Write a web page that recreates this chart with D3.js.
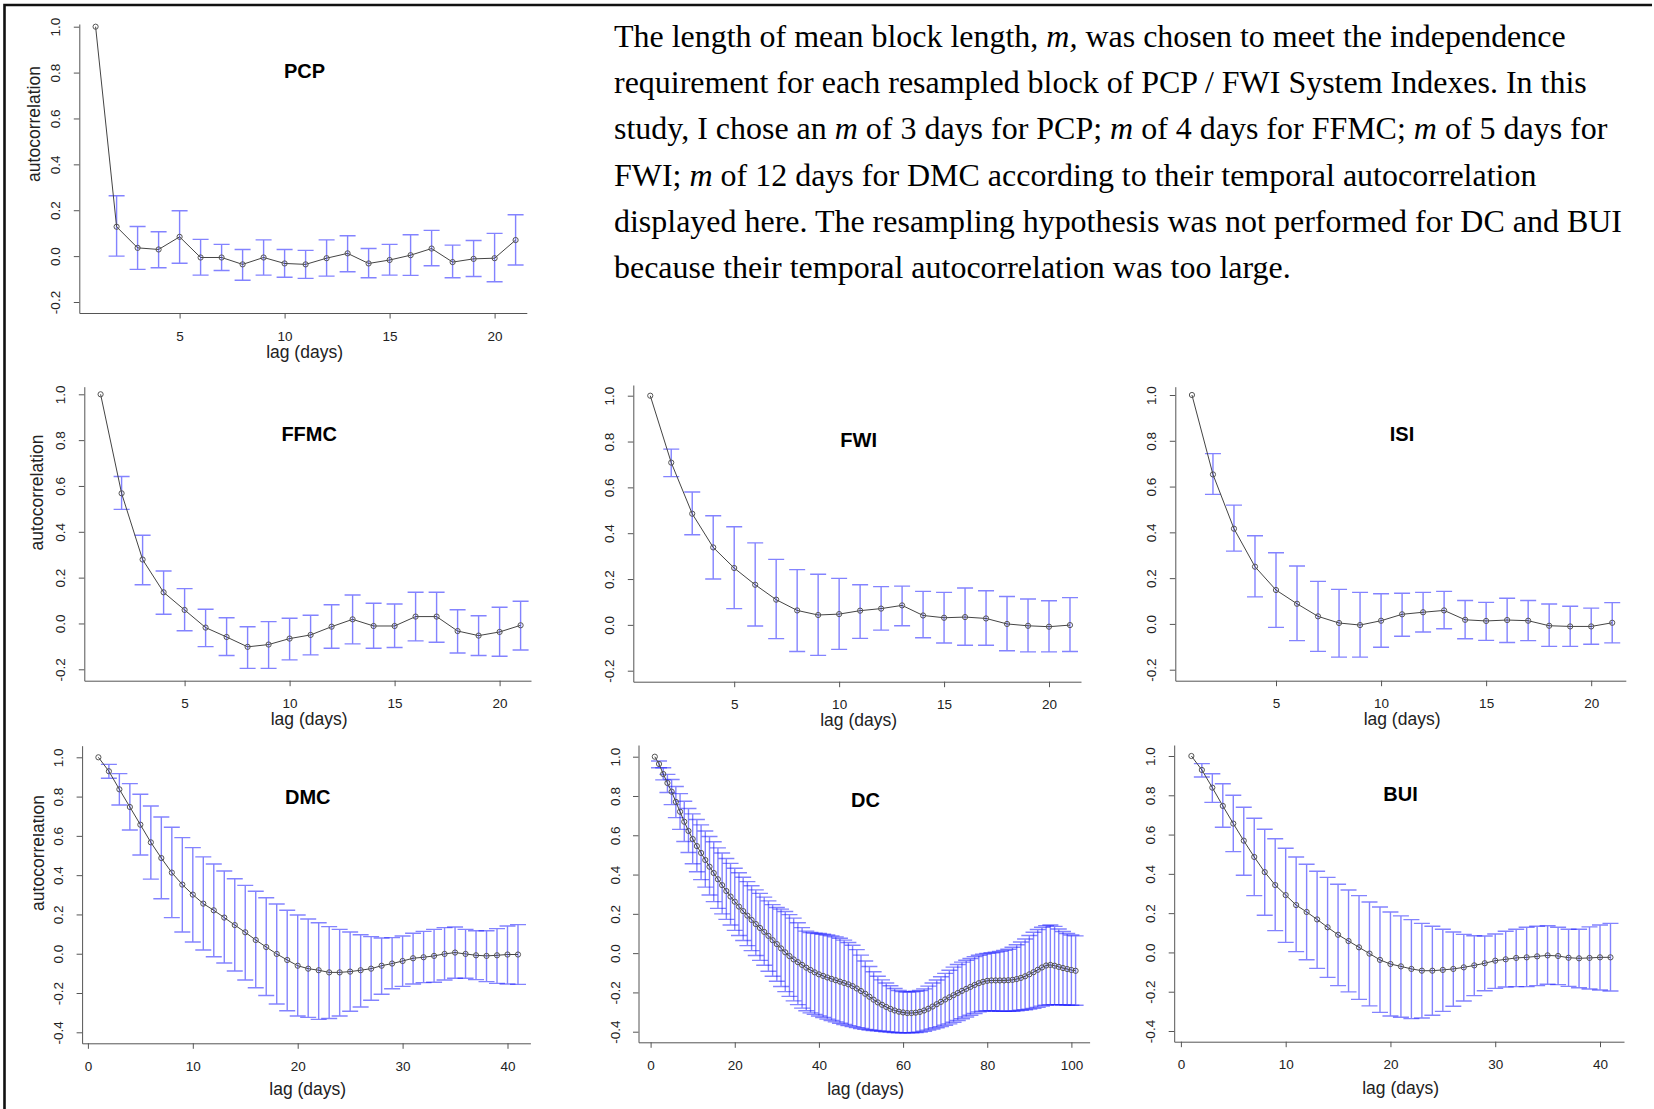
<!DOCTYPE html>
<html>
<head>
<meta charset="utf-8">
<script src="https://cdn.jsdelivr.net/npm/d3@7"></script>
<style>
  body { margin: 0; background: #fff; }
</style>
</head>
<body>
<script>
// autocorrelation per lag (lag 1 first), with upper / lower bootstrap limits
var pcpAcf = [1.000, 0.128, 0.036, 0.029, 0.084, -0.006, -0.006, -0.036, -0.006, -0.032, -0.036, -0.009, 0.012, -0.032, -0.017, 0.004, 0.033, -0.026, -0.012, -0.009, 0.070];
var pcpHi = [null, 0.263, 0.129, 0.106, 0.198, 0.073, 0.051, 0.029, 0.071, 0.029, 0.025, 0.071, 0.089, 0.033, 0.051, 0.093, 0.112, 0.048, 0.068, 0.099, 0.180];
var pcpLo = [null, 0.000, -0.058, -0.051, -0.031, -0.083, -0.063, -0.105, -0.083, -0.092, -0.097, -0.087, -0.068, -0.094, -0.083, -0.084, -0.042, -0.094, -0.089, -0.112, -0.039];

var ffmcAcf = [1.000, 0.568, 0.279, 0.136, 0.059, -0.018, -0.059, -0.102, -0.092, -0.066, -0.050, -0.014, 0.018, -0.011, -0.011, 0.030, 0.030, -0.033, -0.053, -0.037, -0.008];
var ffmcHi = [null, 0.641, 0.385, 0.229, 0.152, 0.062, 0.025, -0.014, 0.008, 0.023, 0.036, 0.082, 0.124, 0.088, 0.085, 0.136, 0.136, 0.060, 0.034, 0.071, 0.097];
var ffmcLo = [null, 0.498, 0.169, 0.040, -0.032, -0.101, -0.140, -0.196, -0.196, -0.159, -0.137, -0.108, -0.089, -0.108, -0.105, -0.076, -0.082, -0.129, -0.140, -0.143, -0.116];

var fwiAcf = [1.000, 0.708, 0.485, 0.338, 0.248, 0.175, 0.110, 0.063, 0.043, 0.047, 0.062, 0.071, 0.085, 0.041, 0.031, 0.034, 0.028, 0.004, -0.004, -0.008, -0.001];
var fwiHi = [null, 0.767, 0.580, 0.476, 0.428, 0.358, 0.286, 0.241, 0.221, 0.203, 0.175, 0.167, 0.169, 0.146, 0.142, 0.161, 0.149, 0.124, 0.113, 0.105, 0.119];
var fwiLo = [null, 0.647, 0.393, 0.200, 0.071, -0.005, -0.060, -0.116, -0.133, -0.107, -0.059, -0.023, -0.004, -0.056, -0.079, -0.089, -0.089, -0.113, -0.118, -0.118, -0.116];

var isiAcf = [1.000, 0.653, 0.416, 0.250, 0.148, 0.088, 0.033, 0.004, -0.005, 0.014, 0.042, 0.051, 0.059, 0.018, 0.013, 0.017, 0.014, -0.008, -0.011, -0.011, 0.005];
var isiHi = [null, 0.744, 0.519, 0.385, 0.311, 0.253, 0.186, 0.151, 0.138, 0.132, 0.134, 0.138, 0.142, 0.102, 0.094, 0.112, 0.102, 0.087, 0.077, 0.069, 0.093];
var isiLo = [null, 0.566, 0.318, 0.118, -0.015, -0.073, -0.120, -0.145, -0.145, -0.102, -0.054, -0.035, -0.021, -0.065, -0.072, -0.081, -0.073, -0.098, -0.098, -0.089, -0.083];

var dmcAcf = [1.000, 0.929, 0.837, 0.747, 0.657, 0.567, 0.487, 0.413, 0.352, 0.301, 0.255, 0.221, 0.184, 0.146, 0.109, 0.070, 0.034, -0.001, -0.032, -0.061, -0.076, -0.084, -0.095, -0.095, -0.091, -0.084, -0.076, -0.061, -0.050, -0.037, -0.023, -0.018, -0.011, -0.001, 0.006, -0.001, -0.008, -0.011, -0.008, -0.004, -0.004];
var dmcHi = [null, 0.964, 0.917, 0.866, 0.812, 0.752, 0.696, 0.644, 0.591, 0.540, 0.493, 0.457, 0.421, 0.382, 0.348, 0.318, 0.285, 0.253, 0.221, 0.197, 0.177, 0.158, 0.138, 0.124, 0.111, 0.097, 0.087, 0.080, 0.082, 0.090, 0.104, 0.114, 0.124, 0.133, 0.136, 0.124, 0.117, 0.117, 0.128, 0.141, 0.148];
var dmcLo = [null, 0.893, 0.757, 0.630, 0.503, 0.380, 0.280, 0.184, 0.111, 0.060, 0.019, -0.015, -0.047, -0.088, -0.134, -0.173, -0.213, -0.256, -0.290, -0.317, -0.324, -0.334, -0.330, -0.317, -0.293, -0.271, -0.237, -0.206, -0.178, -0.166, -0.154, -0.147, -0.145, -0.134, -0.125, -0.125, -0.132, -0.142, -0.151, -0.154, -0.156];

var dcAcf = [1.000, 0.963, 0.912, 0.866, 0.822, 0.770, 0.720, 0.669, 0.622, 0.581,
  0.545, 0.510, 0.474, 0.440, 0.408, 0.376, 0.346, 0.316, 0.288, 0.262,
  0.237, 0.214, 0.191, 0.169, 0.148, 0.128, 0.108, 0.088, 0.066, 0.046,
  0.024, 0.004, -0.015, -0.032, -0.046, -0.060, -0.074, -0.086, -0.098, -0.108,
  -0.116, -0.124, -0.131, -0.138, -0.145, -0.152, -0.159, -0.168, -0.180, -0.193,
  -0.207, -0.222, -0.237, -0.251, -0.263, -0.274, -0.284, -0.292, -0.298, -0.302,
  -0.305, -0.305, -0.303, -0.299, -0.292, -0.283, -0.272, -0.260, -0.248, -0.236,
  -0.225, -0.214, -0.203, -0.192, -0.182, -0.172, -0.162, -0.153, -0.146, -0.141,
  -0.139, -0.139, -0.139, -0.139, -0.138, -0.136, -0.132, -0.126, -0.118, -0.108,
  -0.097, -0.085, -0.073, -0.063, -0.060, -0.064, -0.070, -0.076, -0.081, -0.086, -0.090];
var dcHi = [null, 0.978, 0.944, 0.910, 0.884, 0.848, 0.812, 0.773, 0.736, 0.709,
  0.680, 0.653, 0.622, 0.594, 0.567, 0.536, 0.510, 0.482, 0.457, 0.432,
  0.409, 0.386, 0.364, 0.343, 0.322, 0.304, 0.285, 0.266, 0.247, 0.232,
  0.224, 0.212, 0.196, 0.178, 0.155, 0.130, 0.112, 0.105, 0.102, 0.100,
  0.096, 0.092, 0.088, 0.083, 0.076, 0.066, 0.054, 0.040, 0.018, -0.010,
  -0.040, -0.068, -0.095, -0.118, -0.136, -0.152, -0.166, -0.180, -0.190, -0.196,
  -0.198, -0.197, -0.194, -0.190, -0.182, -0.168, -0.152, -0.137, -0.120, -0.103,
  -0.087, -0.071, -0.058, -0.046, -0.036, -0.027, -0.018, -0.011, -0.005, -0.001,
  0.002, 0.005, 0.009, 0.014, 0.020, 0.030, 0.043, 0.057, 0.072, 0.090,
  0.106, 0.120, 0.132, 0.140, 0.143, 0.136, 0.123, 0.110, 0.100, 0.092, 0.088];
var dcLo = [null, 0.944, 0.882, 0.818, 0.756, 0.690, 0.630, 0.568, 0.512, 0.455,
  0.414, 0.374, 0.336, 0.296, 0.262, 0.228, 0.200, 0.172, 0.143, 0.116,
  0.090, 0.064, 0.038, 0.013, -0.012, -0.037, -0.062, -0.092, -0.118, -0.143,
  -0.170, -0.196, -0.220, -0.243, -0.262, -0.280, -0.293, -0.304, -0.312, -0.320,
  -0.328, -0.336, -0.343, -0.350, -0.357, -0.363, -0.369, -0.374, -0.379, -0.384,
  -0.388, -0.391, -0.394, -0.396, -0.398, -0.400, -0.402, -0.404, -0.405, -0.406,
  -0.406, -0.405, -0.404, -0.402, -0.398, -0.392, -0.386, -0.380, -0.374, -0.367,
  -0.360, -0.352, -0.343, -0.334, -0.325, -0.316, -0.307, -0.299, -0.295, -0.293,
  -0.293, -0.295, -0.296, -0.296, -0.296, -0.296, -0.294, -0.291, -0.288, -0.285,
  -0.281, -0.276, -0.270, -0.265, -0.262, -0.262, -0.263, -0.264, -0.264, -0.265, -0.265];

var buiAcf = [1.000, 0.929, 0.839, 0.746, 0.656, 0.569, 0.486, 0.409, 0.343, 0.292, 0.241, 0.206, 0.168, 0.128, 0.090, 0.058, 0.026, -0.006, -0.038, -0.059, -0.071, -0.084, -0.093, -0.093, -0.089, -0.084, -0.076, -0.066, -0.055, -0.042, -0.035, -0.028, -0.025, -0.020, -0.015, -0.018, -0.027, -0.030, -0.028, -0.025, -0.025];
var buiHi = [null, 0.961, 0.910, 0.859, 0.800, 0.739, 0.683, 0.627, 0.579, 0.530, 0.486, 0.449, 0.413, 0.382, 0.347, 0.318, 0.289, 0.257, 0.231, 0.206, 0.186, 0.167, 0.148, 0.133, 0.118, 0.104, 0.092, 0.085, 0.084, 0.094, 0.108, 0.118, 0.128, 0.133, 0.136, 0.128, 0.118, 0.118, 0.130, 0.140, 0.148];
var buiLo = [null, 0.893, 0.764, 0.637, 0.513, 0.393, 0.289, 0.189, 0.111, 0.051, 0.004, -0.037, -0.081, -0.127, -0.169, -0.201, -0.239, -0.272, -0.305, -0.324, -0.330, -0.337, -0.334, -0.320, -0.300, -0.274, -0.247, -0.220, -0.195, -0.183, -0.176, -0.174, -0.174, -0.169, -0.162, -0.164, -0.173, -0.180, -0.186, -0.191, -0.196];

var yTicksShort = [-0.2, 0, 0.2, 0.4, 0.6, 0.8, 1.0];
var yTicksLong = [-0.4, -0.2, 0, 0.2, 0.4, 0.6, 0.8, 1.0];
var xTicks21 = [5, 10, 15, 20];
var xTicks41 = [0, 10, 20, 30, 40];
var xTicks101 = [0, 20, 40, 60, 80, 100];

var W = 1654, H = 1109;
var sans = "Arial, 'Liberation Sans', sans-serif";

// layout of each panel (pixels): plot box, two reference points per axis
var panels = [
  { name: "PCP", acf: pcpAcf, hi: pcpHi, lo: pcpLo, yTicks: yTicksShort, xTicks: xTicks21,
    left: 79.3, right: 526.8, top: 24, bottom: 313, yRef: [[-0.2, 302], [1, 26.7]], xRef: [[5, 179.6], [20, 494.6]],
    titleY: 71, xlabOff: 38.7, ylab: [34, 124] },
  { name: "FFMC", acf: ffmcAcf, hi: ffmcHi, lo: ffmcLo, yTicks: yTicksShort, xTicks: xTicks21,
    left: 84.3, right: 531, top: 386.7, bottom: 680.7, yRef: [[-0.2, 669.3], [1, 394.3]], xRef: [[5, 184.6], [20, 499.6]],
    titleY: 434, xlabOff: 38.3, ylab: [36.5, 492.5] },
  { name: "FWI", acf: fwiAcf, hi: fwiHi, lo: fwiLo, yTicks: yTicksShort, xTicks: xTicks21,
    left: 633.3, right: 1081, top: 385, bottom: 681.7, yRef: [[-0.2, 670.7], [1, 395.7]], xRef: [[5, 734.2], [20, 1049]],
    titleY: 440, xlabOff: 38.3 },
  { name: "ISI", acf: isiAcf, hi: isiHi, lo: isiLo, yTicks: yTicksShort, xTicks: xTicks21,
    left: 1175.3, right: 1625.8, top: 386.7, bottom: 680.7, yRef: [[-0.2, 669.7], [1, 395]], xRef: [[5, 1276], [20, 1591.2]],
    titleY: 434, xlabOff: 38.3 },
  { name: "DMC", acf: dmcAcf, hi: dmcHi, lo: dmcLo, yTicks: yTicksLong, xTicks: xTicks41,
    left: 82.1, right: 530.4, top: 745.7, bottom: 1043.3, yRef: [[-0.4, 1032.3], [1, 757.3]], xRef: [[0, 87.9], [40, 507.5]],
    titleY: 796.7, xlabOff: 46, ylab: [37.5, 853], ylabClip: 32.9 },
  { name: "DC", acf: dcAcf, hi: dcHi, lo: dcLo, yTicks: yTicksLong, xTicks: xTicks101,
    left: 638.5, right: 1089.6, top: 745, bottom: 1042.3, yRef: [[-0.4, 1031.7], [1, 756.7]], xRef: [[0, 650.6], [100, 1071.4]],
    titleY: 800, xlabOff: 46.7 },
  { name: "BUI", acf: buiAcf, hi: buiHi, lo: buiLo, yTicks: yTicksLong, xTicks: xTicks41,
    left: 1174.2, right: 1624, top: 745, bottom: 1041.7, yRef: [[-0.4, 1031], [1, 756]], xRef: [[0, 1180.9], [40, 1600]],
    titleY: 794.3, xlabOff: 46.6 }
];

var svg = d3.select("body").append("svg")
    .attr("width", W)
    .attr("height", H);

var fmt = function (v) { return d3.format(".1f")(v).replace("\u2212", "-"); };

// scale through two known pixel positions, stretched to the box edges
function refScale(ref, a, b) {
  var s = d3.scaleLinear().domain([ref[0][0], ref[1][0]]).range([ref[0][1], ref[1][1]]);
  return d3.scaleLinear().domain([s.invert(a), s.invert(b)]).range([a, b]);
}

panels.forEach(function (p) {
  var g = svg.append("g");
  var x = refScale(p.xRef, p.left, p.right);
  var y = refScale(p.yRef, p.bottom, p.top);
  var lags = d3.range(1, p.acf.length + 1);
  var cx = (p.left + p.right) / 2 + 1.5;

  // error bars
  var withBar = lags.filter(function (l) { return p.hi[l - 1] != null; });
  g.append("g").selectAll("path")
    .data(withBar)
    .enter()
    .append("path")
    .attr("d", function (l) {
      var xx = x(l), yh = y(p.hi[l - 1]), yl = y(p.lo[l - 1]);
      return "M" + xx + "," + yl + "V" + yh + "M" + (xx - 8) + "," + yh + "h16M" + (xx - 8) + "," + yl + "h16";
    })
    .attr("fill", "none")
    .attr("stroke", "rgba(30,30,255,0.55)")
    .attr("stroke-width", 1.4);

  var line = d3.line()
    .x(function (d, i) { return x(lags[i]); })
    .y(function (d) { return y(d); });
  g.append("path")
    .datum(p.acf)
    .attr("d", line)
    .attr("fill", "none")
    .attr("stroke", "#444")
    .attr("stroke-width", 1);

  g.append("g").selectAll("circle")
    .data(p.acf)
    .enter()
    .append("circle")
    .attr("cx", function (d, i) { return x(lags[i]); })
    .attr("cy", function (d) { return y(d); })
    .attr("r", 2.6)
    .attr("fill", "none")
    .attr("stroke", "#555")
    .attr("stroke-width", 1);

  // axes
  var yAxis = d3.axisLeft(y).tickValues(p.yTicks).tickSize(5.5).tickSizeOuter(0).tickFormat(fmt);
  var ya = g.append("g").attr("transform", "translate(" + p.left + ",0)").call(yAxis);
  ya.selectAll("text")
    .attr("x", 0)
    .attr("dy", "0.35em")
    .attr("text-anchor", "middle")
    .attr("transform", "translate(-23.7,0) rotate(-90)");

  var xAxis = d3.axisBottom(x).tickValues(p.xTicks).tickSize(5.5).tickSizeOuter(0);
  var xa = g.append("g").attr("transform", "translate(0," + p.bottom + ")").call(xAxis);
  xa.selectAll("text").attr("y", 23).attr("dy", "0.35em");

  [ya, xa].forEach(function (a) {
    a.attr("font-family", sans).attr("font-size", 13.5);
    a.select(".domain").attr("stroke", "#555");
    a.selectAll(".tick line").attr("stroke", "#555");
    a.selectAll("text").attr("fill", "#222");
  });

  g.append("text")
    .attr("x", cx)
    .attr("y", p.titleY)
    .attr("dy", "0.35em")
    .attr("text-anchor", "middle")
    .attr("font-family", sans)
    .attr("font-weight", "bold")
    .attr("font-size", 20)
    .text(p.name);

  g.append("text")
    .attr("x", cx)
    .attr("y", p.bottom + p.xlabOff)
    .attr("dy", "0.35em")
    .attr("text-anchor", "middle")
    .attr("font-family", sans)
    .attr("font-size", 17.5)
    .attr("fill", "#222")
    .text("lag (days)");

  if (p.ylab) {
    var t = g.append("text")
      .attr("transform", "translate(" + p.ylab[0] + "," + p.ylab[1] + ") rotate(-90)")
      .attr("dy", "0.35em")
      .attr("text-anchor", "middle")
      .attr("font-family", sans)
      .attr("font-size", 17.5)
      .attr("fill", "#222")
      .text("autocorrelation");
    if (p.ylabClip) {
      svg.append("clipPath").attr("id", "clip-" + p.name)
        .append("rect").attr("x", p.ylabClip).attr("y", 0).attr("width", 200).attr("height", H);
      var wrap = g.append("g").attr("clip-path", "url(#clip-" + p.name + ")");
      wrap.node().appendChild(t.node());
    }
  }
});

// text block at top right
var lines = [
  [["The length of mean block length, ", false], ["m,", true], [" was chosen to meet the independence", false]],
  [["requirement for each resampled block of PCP / FWI System Indexes. In this", false]],
  [["study, I chose an ", false], ["m", true], [" of 3 days for PCP; ", false], ["m", true], [" of 4 days for FFMC; ", false], ["m", true], [" of 5 days for", false]],
  [["FWI; ", false], ["m", true], [" of 12 days for DMC according to their temporal autocorrelation", false]],
  [["displayed here. The resampling hypothesis was not performed for DC and BUI", false]],
  [["because their temporal autocorrelation was too large.", false]]
];
var para = svg.append("g")
  .attr("font-family", "'Liberation Serif', 'Times New Roman', serif")
  .attr("font-size", 32)
  .attr("fill", "#000");
var txt = para.selectAll("text")
  .data(lines)
  .enter()
  .append("text")
  .attr("x", 614)
  .attr("y", function (d, i) { return 47 + i * 46.2; });
txt.selectAll("tspan")
  .data(function (d) { return d; })
  .enter()
  .append("tspan")
  .attr("font-style", function (d) { return d[1] ? "italic" : null; })
  .text(function (d) { return d[0]; });
// fit the first line to its width in the reference
var w1 = txt.node().getComputedTextLength();
para.attr("font-size", 32 * 952 / w1);

// frame (top and left edges)
svg.append("path")
  .attr("d", "M4.5," + H + "V5H1652")
  .attr("fill", "none")
  .attr("stroke", "#111")
  .attr("stroke-width", 2.6);
</script>
</body>
</html>
